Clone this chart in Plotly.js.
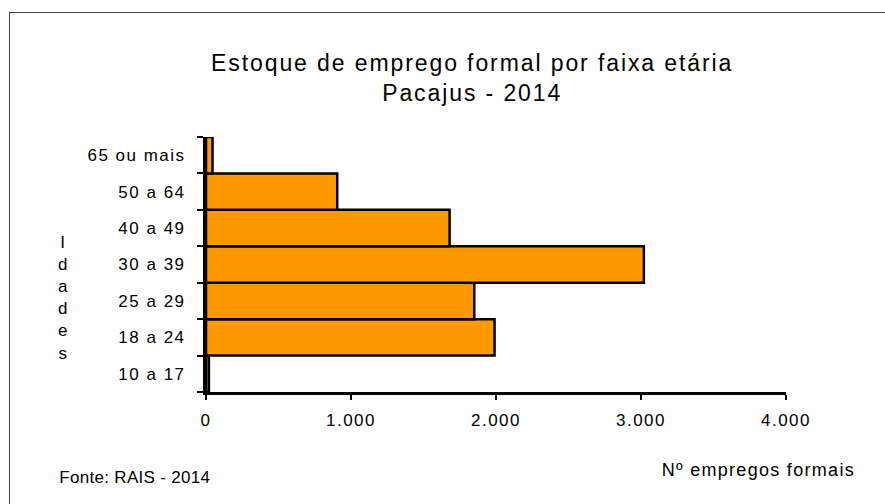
<!DOCTYPE html>
<html><head><meta charset="utf-8">
<script src="https://cdn.plot.ly/plotly-3.0.1.min.js"></script>
<style>
body{margin:0;padding:0;background:#fff;}
#frame{position:absolute;left:9px;top:12px;width:900px;height:600px;border-left:1px solid #444;border-top:1px solid #444;pointer-events:none;}
#chart{position:absolute;left:0;top:0;width:885px;height:504px;}
#chart .xtick text, #chart .ytick text{letter-spacing:1.5px;}
#chart g.annotation[data-index="0"] text{letter-spacing:1.9px;}
#chart g.annotation[data-index="2"] text{letter-spacing:0.3px;}
#chart g.annotation[data-index="3"] text{letter-spacing:1.3px;}
</style>
</head><body>
<div id="chart"></div>
<div id="frame"></div>
<script>
const categories = ["10 a 17","18 a 24","25 a 29","30 a 39","40 a 49","50 a 64","65 ou mais"];
const values = [20, 1990, 1850, 3020, 1680, 905, 45];
const xTickVals = [0, 1000, 2000, 3000, 4000];
const xTickText = ["0", "1.000", "2.000", "3.000", "4.000"];
const titleText = "Estoque de emprego formal por faixa etária<br>Pacajus - 2014";

const FONT = "Liberation Sans, Arial, sans-serif";

Plotly.newPlot("chart", [{
  type: "bar",
  orientation: "h",
  y: categories,
  x: values,
  marker: {color: "#FF9900", line: {color: "#000", width: 2.5}},
  hoverinfo: "x+y"
}], {
  width: 885, height: 504,
  margin: {l: 206, r: 99, t: 137, b: 112},
  paper_bgcolor: "#fff", plot_bgcolor: "#fff",
  bargap: 0,
  showlegend: false,
  font: {family: FONT, color: "#000"},
  xaxis: {
    range: [0, 4000],
    tickvals: xTickVals, ticktext: xTickText,
    showgrid: false, zeroline: false,
    showline: true, linecolor: "#000", linewidth: 3,
    ticks: "outside", ticklen: 5, tickwidth: 2, tickcolor: "#000",
    tickfont: {size: 17, family: FONT},
    ticklabelstandoff: 6
  },
  yaxis: {
    type: "category",
    range: [-0.5, 6.5],
    tickson: "boundaries",
    showgrid: false, zeroline: false,
    showline: true, linecolor: "#000", linewidth: 3,
    ticks: "outside", ticklen: 6, tickwidth: 2, tickcolor: "#000",
    tickfont: {size: 17, family: FONT},
    ticklabelstandoff: 14
  },
  annotations: [
    {text: titleText, xref: "paper", yref: "paper", x: (472-206)/580, y: 1, yshift: 137-48, xanchor: "center", yanchor: "top",
     showarrow: false, font: {size: 23, family: FONT, color: "#000"}},
    {text: "I<br>d<br>a<br>d<br>e<br>s", xref: "paper", yref: "paper", x: (63-206)/580, y: 0.5, yshift: -33, xanchor: "center", yanchor: "middle",
     showarrow: false, font: {size: 17, family: FONT, color: "#000"}},
    {text: "Fonte: RAIS - 2014", xref: "paper", yref: "paper", x: (60-206)/580, y: 0, yshift: -85, xanchor: "left", yanchor: "middle",
     showarrow: false, font: {size: 17, family: FONT, color: "#000"}},
    {text: "Nº empregos formais", xref: "paper", yref: "paper", x: (845-206)/580, y: 0, yshift: -78, xanchor: "right", yanchor: "middle",
     showarrow: false, font: {size: 18, family: FONT, color: "#000"}}
  ]
}, {displayModeBar: false, staticPlot: true});
</script>
</body></html>
